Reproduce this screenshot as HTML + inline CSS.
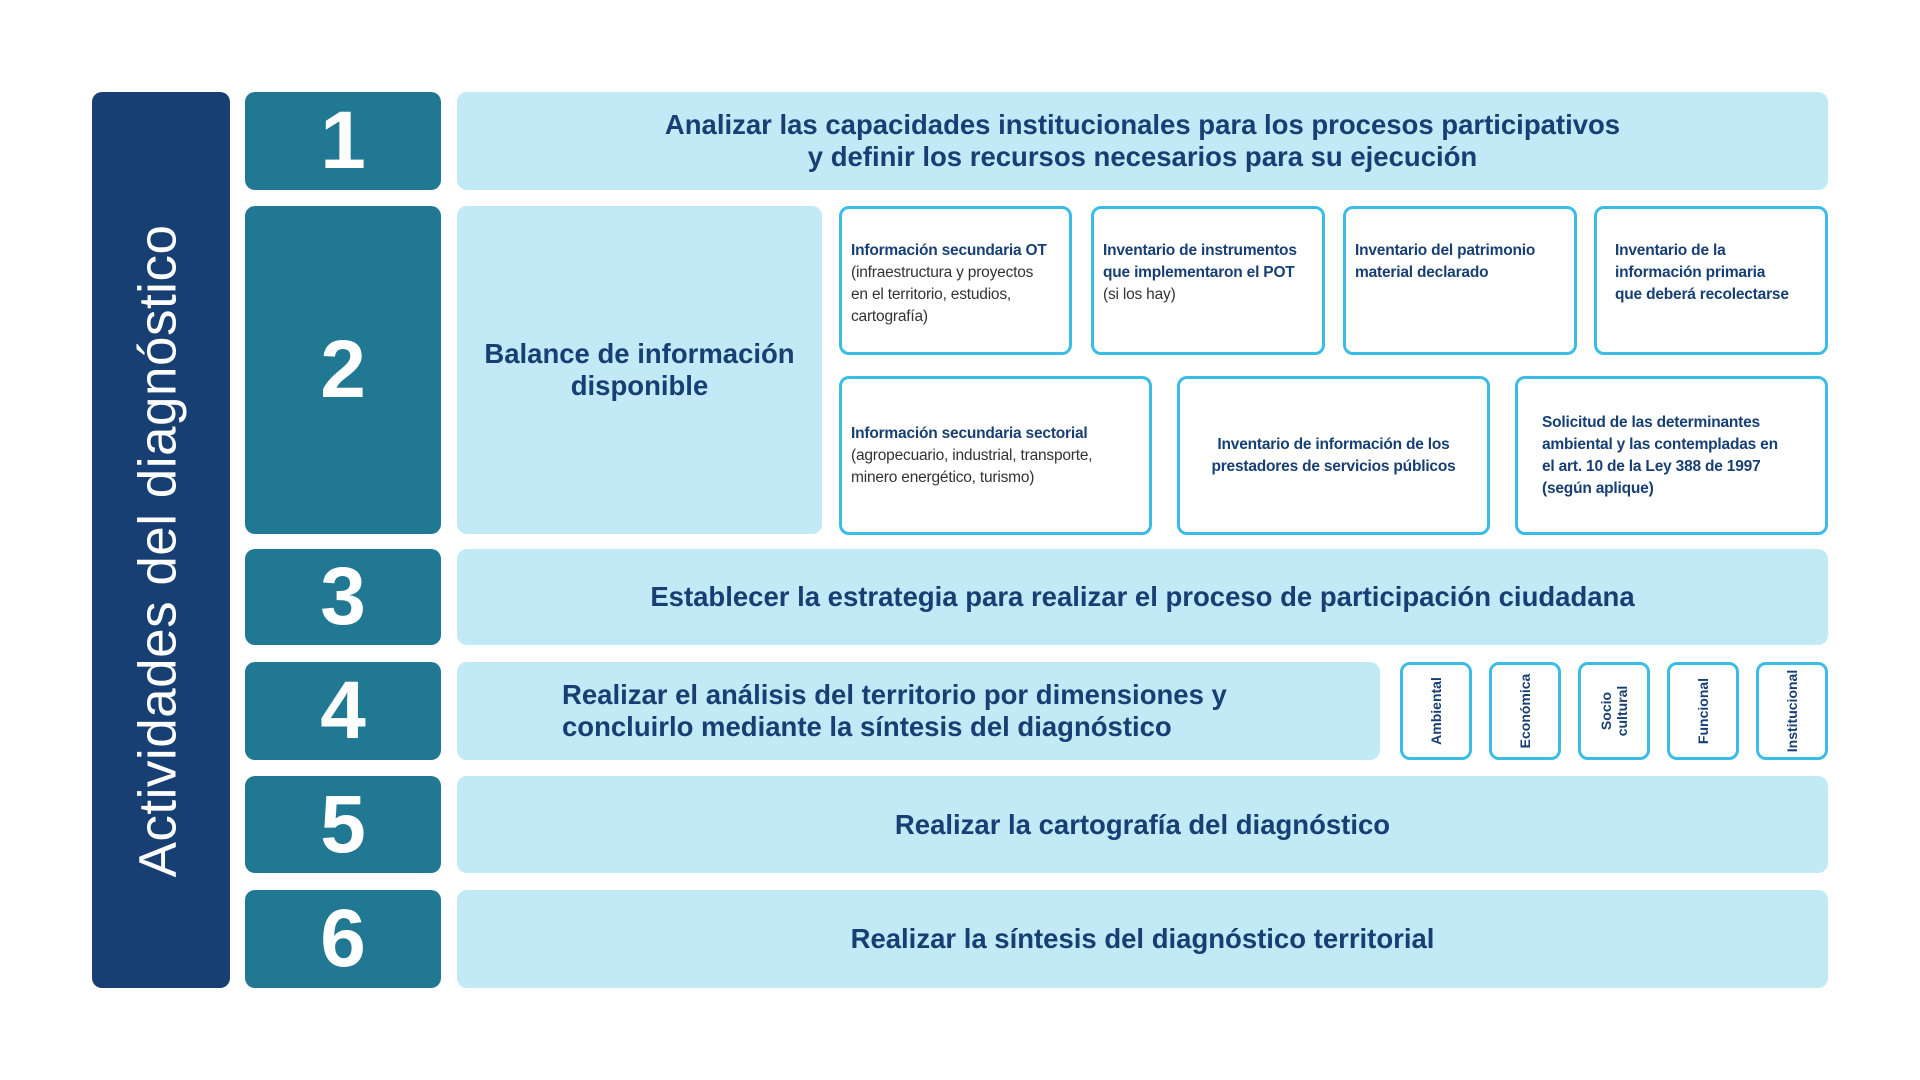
<!DOCTYPE html>
<html><head><meta charset="utf-8"><style>
body{margin:0;width:1920px;height:1080px;background:#fff;position:relative;overflow:hidden;font-family:"Liberation Sans",sans-serif;}
.a{position:absolute;box-sizing:border-box;}
.nav{background:#173f73;border-radius:10px;}
.num{background:#217893;border-radius:10px;color:#fff;font-weight:bold;font-size:82px;display:flex;align-items:center;justify-content:center;}
.lt{background:#c1e9f6;border-radius:10px;color:#173f73;font-weight:bold;font-size:27.5px;display:flex;align-items:center;justify-content:center;text-align:center;line-height:32px;}
.bx{border:3px solid #3bbce6;border-radius:10px;background:#fff;color:#173f73;font-size:15.5px;letter-spacing:-0.2px;line-height:22px;padding:0 9px;white-space:nowrap;}
.bx b{font-weight:bold;}
.bx span{color:#333;}
.sm{border:3px solid #3bbce6;border-radius:10px;background:#fff;}
.sm div{position:absolute;left:50%;top:50%;transform:translate(-50%,-50%) rotate(-90deg);white-space:nowrap;color:#173f73;font-weight:bold;font-size:14px;line-height:16px;text-align:center;}
</style></head><body>
<div class="a nav" style="left:92px;top:92px;width:138px;height:896px;"></div>
<div class="a" style="left:158px;top:551px;transform:translate(-50%,-50%) rotate(-90deg);white-space:nowrap;color:#fff;font-size:53px;letter-spacing:0.5px;">Actividades del diagnóstico</div>

<div class="a num" style="left:245px;top:92px;width:196px;height:98px;">1</div>
<div class="a num" style="left:245px;top:206px;width:196px;height:328px;">2</div>
<div class="a num" style="left:245px;top:549px;width:196px;height:96px;">3</div>
<div class="a num" style="left:245px;top:662px;width:196px;height:98px;">4</div>
<div class="a num" style="left:245px;top:776px;width:196px;height:97px;">5</div>
<div class="a num" style="left:245px;top:890px;width:196px;height:98px;">6</div>

<div class="a lt" style="left:457px;top:92px;width:1371px;height:98px;">Analizar las capacidades institucionales para los procesos participativos<br>y definir los recursos necesarios para su ejecución</div>
<div class="a lt" style="left:457px;top:206px;width:365px;height:328px;">Balance de información<br>disponible</div>
<div class="a lt" style="left:457px;top:549px;width:1371px;height:96px;">Establecer la estrategia para realizar el proceso de participación ciudadana</div>
<div class="a lt" style="left:457px;top:662px;width:923px;height:98px;justify-content:flex-start;text-align:left;padding-left:105px;">Realizar el análisis del territorio por dimensiones y<br>concluirlo mediante la síntesis del diagnóstico</div>
<div class="a lt" style="left:457px;top:776px;width:1371px;height:97px;">Realizar la cartografía del diagnóstico</div>
<div class="a lt" style="left:457px;top:890px;width:1371px;height:98px;">Realizar la síntesis del diagnóstico territorial</div>

<div class="a bx" style="left:839px;top:206px;width:233px;height:149px;padding-top:31px;padding-right:4px;"><b>Información secundaria OT</b><br><span>(infraestructura y proyectos<br>en el territorio, estudios,<br>cartografía)</span></div>
<div class="a bx" style="left:1091px;top:206px;width:234px;height:149px;padding-top:31px;padding-right:4px;"><b>Inventario de instrumentos<br>que implementaron el POT</b><br><span>(si los hay)</span></div>
<div class="a bx" style="left:1343px;top:206px;width:234px;height:149px;padding-top:31px;"><b>Inventario del patrimonio<br>material declarado</b></div>
<div class="a bx" style="left:1594px;top:206px;width:234px;height:149px;padding-top:31px;padding-left:18px;"><b>Inventario de la<br>información primaria<br>que deberá recolectarse</b></div>

<div class="a bx" style="left:839px;top:376px;width:313px;height:159px;padding-top:44px;"><b>Información secundaria sectorial</b><br><span>(agropecuario, industrial, transporte,<br>minero energético, turismo)</span></div>
<div class="a bx" style="left:1177px;top:376px;width:313px;height:159px;display:flex;align-items:center;justify-content:center;text-align:center;"><b>Inventario de información de los<br>prestadores de servicios públicos</b></div>
<div class="a bx" style="left:1515px;top:376px;width:313px;height:159px;display:flex;align-items:center;padding-left:24px;"><b>Solicitud de las determinantes<br>ambiental y las contempladas en<br>el art. 10 de la Ley 388 de 1997<br>(según aplique)</b></div>

<div class="a sm" style="left:1400px;top:662px;width:72px;height:98px;"><div>Ambiental</div></div>
<div class="a sm" style="left:1489px;top:662px;width:72px;height:98px;"><div>Económica</div></div>
<div class="a sm" style="left:1578px;top:662px;width:72px;height:98px;"><div>Socio<br>cultural</div></div>
<div class="a sm" style="left:1667px;top:662px;width:72px;height:98px;"><div>Funcional</div></div>
<div class="a sm" style="left:1756px;top:662px;width:72px;height:98px;"><div>Institucional</div></div>
</body></html>
